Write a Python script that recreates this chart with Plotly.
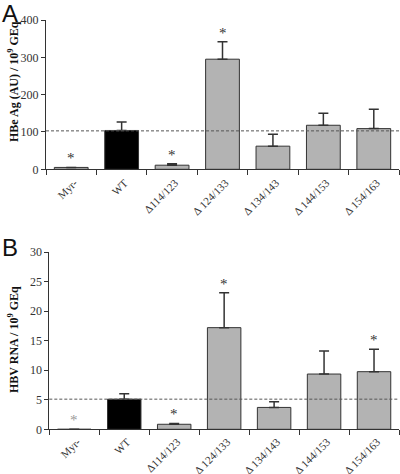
import plotly.graph_objects as go

categories = ["Myr-", "WT", "Δ114/123", "Δ 124/133", "Δ 134/143", "Δ 144/153", "Δ 154/163"]
hbeag = [5, 104, 11, 295, 62, 118, 109]
hbeag_err = [0, 23, 4, 47, 32, 32, 52]
hbv_rna = [0, 5.1, 0.85, 17.2, 3.7, 9.35, 9.75]
hbv_err = [0, 0.9, 0.15, 5.9, 0.95, 3.9, 3.8]
sig_a = [True, False, True, True, False, False, False]
sig_b = [True, False, True, True, False, False, True]
wt_a = 103
wt_b = 5.1
yticks_a = [0, 100, 200, 300, 400]
yticks_b = [0, 5, 10, 15, 20, 25, 30]

W, H = 400, 474
def py(p):
    return 1 - p / H

colors = ["#b3b3b3", "#000000"] + ["#b3b3b3"] * 5
FONT = "Liberation Serif"

fig = go.Figure()
for vals, errs, xa, ya in [(hbeag, hbeag_err, "x", "y"), (hbv_rna, hbv_err, "x2", "y2")]:
    fig.add_trace(go.Bar(
        x=categories, y=vals, xaxis=xa, yaxis=ya, width=0.67,
        marker=dict(color=colors, line=dict(color="#333333", width=1)),
        error_y=dict(type="data", array=errs, arrayminus=[0] * len(errs), symmetric=False,
                     color="#333333", thickness=1.5, width=5),
        showlegend=False, hoverinfo="skip"))

axis_common = dict(showline=True, linecolor="#333333", linewidth=1, ticks="outside",
                   tickcolor="#333333", showgrid=False, zeroline=False, automargin=False)
xfont = dict(family=FONT, size=11, color="#333333")
yfont = dict(family=FONT, size=12, color="#333333")
fig.update_layout(
    width=W, height=H, margin=dict(l=0, r=0, t=0, b=0, autoexpand=False),
    font=dict(family=FONT, size=12, color="#333333"),
    paper_bgcolor="white", plot_bgcolor="white", bargap=0.33,
    xaxis=dict(domain=[46 / W, 399 / W], anchor="y", type="category", tickson="boundaries",
               ticklen=5, tickangle=-45, tickfont=xfont, ticklabelstandoff=2, ticklabelshift=3,
               **axis_common),
    yaxis=dict(domain=[py(169.3), py(20)], anchor="x", range=[0, 400], tickvals=yticks_a,
               ticklen=4, tickfont=yfont, **axis_common),
    xaxis2=dict(domain=[49.3 / W, 399 / W], anchor="y2", type="category", tickson="boundaries",
                ticklen=5, tickangle=-45, tickfont=xfont, ticklabelstandoff=1, ticklabelshift=3,
                **axis_common),
    yaxis2=dict(domain=[py(429.3), py(252)], anchor="x2", range=[0, 30], tickvals=yticks_b,
                ticklen=4, tickfont=yfont, **axis_common),
)

# dashed reference lines at WT level
fig.add_shape(type="line", xref="x domain", yref="y", x0=0, x1=1, y0=wt_a, y1=wt_a,
              line=dict(color="#555555", width=1, dash="3px,2px"))
fig.add_shape(type="line", xref="x2 domain", yref="y2", x0=0, x1=1, y0=wt_b, y1=wt_b,
              line=dict(color="#555555", width=1, dash="3px,2px"))

# asterisks
for i, c in enumerate(categories):
    if sig_a[i]:
        fig.add_annotation(x=c, y=hbeag[i] + hbeag_err[i], xref="x", yref="y", text="*",
                           showarrow=False, yanchor="bottom", yshift=-1,
                           font=dict(family=FONT, size=15, color="#333333"))
    if sig_b[i]:
        col = "#999999" if i == 0 else "#333333"
        fig.add_annotation(x=c, y=hbv_rna[i] + hbv_err[i], xref="x2", yref="y2", text="*",
                           showarrow=False, yanchor="bottom", yshift=-1,
                           font=dict(family=FONT, size=15, color=col))

# y-axis titles
fig.add_annotation(x=13 / W, y=py(82), xref="paper", yref="paper",
                   text="<b>HBe Ag (AU) / 10<sup>9</sup> GEq</b>",
                   textangle=-90, showarrow=False, xanchor="center", yanchor="middle",
                   font=dict(family=FONT, size=12, color="#111111"))
fig.add_annotation(x=13 / W, y=py(340), xref="paper", yref="paper",
                   text="<b>HBV RNA / 10<sup>9</sup> GEq</b>",
                   textangle=-90, showarrow=False, xanchor="center", yanchor="middle",
                   font=dict(family=FONT, size=12, color="#111111"))

# panel letters
fig.add_annotation(x=0, y=1.005, xref="paper", yref="paper", text="A", showarrow=False,
                   xanchor="left", yanchor="top", font=dict(family="Liberation Sans", size=24, color="#111111"))
fig.add_annotation(x=0, y=py(232), xref="paper", yref="paper", text="B", showarrow=False,
                   xanchor="left", yanchor="top", font=dict(family="Liberation Sans", size=24, color="#111111"))

fig.write_html("out.html", config={"displayModeBar": False},
               post_script="document.body.style.margin='0';document.body.style.padding='0';")
